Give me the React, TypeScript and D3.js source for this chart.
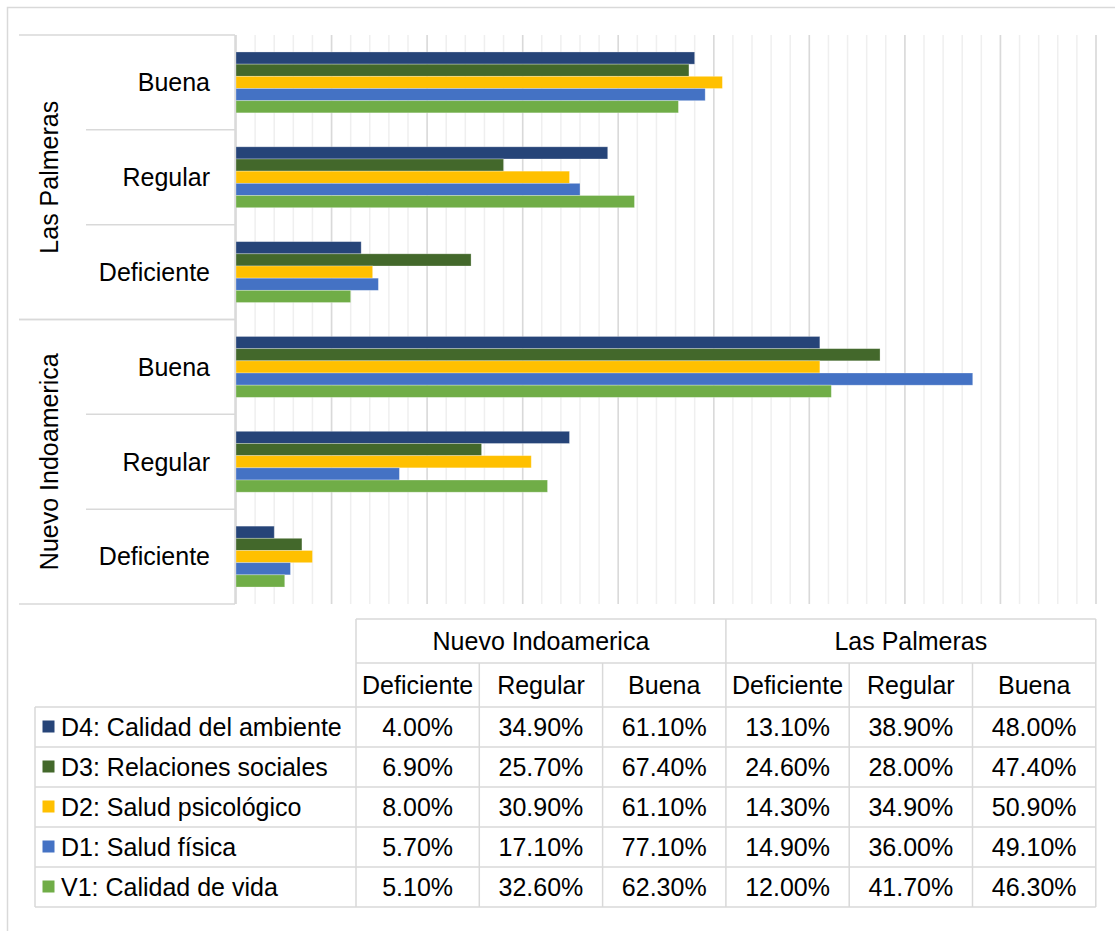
import * as d3 from 'd3'

// table column order: Nuevo Indoamerica (Def, Reg, Buena), Las Palmeras (Def, Reg, Buena)
const groups = ['Nuevo Indoamerica', 'Las Palmeras']
const levels = ['Deficiente', 'Regular', 'Buena']

const seriesNames = [
  'D4: Calidad del ambiente',
  'D3: Relaciones sociales',
  'D2: Salud psicológico',
  'D1: Salud física',
  'V1: Calidad de vida',
]
const seriesColors = ['#264478', '#43682B', '#FFC000', '#4472C4', '#70AD47']

const d4 = [4.0, 34.9, 61.1, 13.1, 38.9, 48.0]
const d3v = [6.9, 25.7, 67.4, 24.6, 28.0, 47.4]
const d2 = [8.0, 30.9, 61.1, 14.3, 34.9, 50.9]
const d1 = [5.7, 17.1, 77.1, 14.9, 36.0, 49.1]
const v1 = [5.1, 32.6, 62.3, 12.0, 41.7, 46.3]
const seriesValues = [d4, d3v, d2, d1, v1]

const W = 1115
const H = 931
const FONT = "'Liberation Sans', Arial, sans-serif"
const LINE = '#d9d9d9'
const FS = 25

const cols = groups.flatMap(g => levels.map(l => ({ group: g, level: l, key: `${g}|${l}` })))

export default function App() {
  const plot = { l: 236, r: 1096, t: 35, b: 604 }

  const x = d3.scaleLinear().domain([0, 90]).range([plot.l, plot.r])
  // bars: first category at bottom, like the original
  const yKeys = [...cols].reverse().map(c => c.key)
  const y = d3
    .scaleBand<string>()
    .domain(yKeys)
    .range([plot.t, plot.b])
    .paddingInner(0.358)
    .paddingOuter(0.179)
  const ys = d3
    .scaleBand<number>()
    .domain(d3.range(seriesNames.length))
    .range([0, y.bandwidth()])

  const step = y.step()
  const bandTop = (k: string) => y(k)! - y.paddingOuter() * step
  const minor = d3.range(0, 90.001, 2)
  const major = d3.range(0, 90.001, 10)

  // table geometry
  const tab = { l: 35, c0: 356, colW: 123.3, top: 619, h1: 44, h2: 44, rowH: 40 }
  const colX = (i: number) => tab.c0 + i * tab.colW
  const row2Top = tab.top + tab.h1
  const dataTop = row2Top + tab.h2
  const tabR = colX(6)
  const fmt = d3.format('.2f')

  return (
    <svg
      width={W}
      height={H}
      style={{ position: 'absolute', left: 0, top: 0, background: '#fff' }}
      fontFamily={FONT}
    >
      <rect x={7.5} y={7.5} width={W + 10} height={H + 10} fill="#fff" stroke={LINE} strokeWidth={1.5} />

      {/* gridlines */}
      {minor.map(v => (
        <line key={'m' + v} x1={x(v)} x2={x(v)} y1={plot.t} y2={plot.b} stroke="#efefef" strokeWidth={1.5} />
      ))}
      {major.map(v => (
        <line key={'M' + v} x1={x(v)} x2={x(v)} y1={plot.t} y2={plot.b} stroke={LINE} strokeWidth={1.5} />
      ))}

      {/* bars */}
      {seriesValues.map((vals, si) =>
        cols.map((c, ci) => (
          <rect
            key={`${si}-${ci}`}
            x={x(0)}
            y={y(c.key)! + ys(si)!}
            width={x(vals[ci]) - x(0)}
            height={ys.bandwidth()}
            fill={seriesColors[si]}
            stroke="#ffffff"
            strokeOpacity={0.35}
            strokeWidth={0.8}
          />
        ))
      )}

      {/* category axis */}
      <line x1={235} x2={235} y1={plot.t} y2={plot.b} stroke={LINE} strokeWidth={1.5} />
      {groups.map(g => {
        const keys = yKeys.filter(k => k.startsWith(g + '|'))
        const top = d3.min(keys, bandTop)!
        const bottom = top + keys.length * step
        return (
          <g key={g}>
            <line x1={19} x2={235} y1={top} y2={top} stroke={LINE} strokeWidth={1.5} />
            <line x1={19} x2={235} y1={bottom} y2={bottom} stroke={LINE} strokeWidth={1.5} />
            <text
              transform={`translate(58,${(top + bottom) / 2}) rotate(-90)`}
              textAnchor="middle"
              fontSize={FS}
              fill="#000"
            >
              {g}
            </text>
          </g>
        )
      })}
      {yKeys.map((k, i) => {
        const lvl = k.split('|')[1]
        const top = bandTop(k)
        const isGroupStart = i % levels.length === 0
        return (
          <g key={k}>
            {!isGroupStart && (
              <line x1={86} x2={235} y1={top} y2={top} stroke={LINE} strokeWidth={1.5} />
            )}
            <text x={210} y={top + step / 2} dy="0.35em" textAnchor="end" fontSize={FS} fill="#000">
              {lvl}
            </text>
          </g>
        )
      })}

      {/* data table */}
      <g stroke={LINE} strokeWidth={1.5} fill="none">
        <line x1={tab.c0} x2={tabR} y1={tab.top} y2={tab.top} />
        <line x1={tab.c0} x2={tabR} y1={row2Top} y2={row2Top} />
        <line x1={tab.l} x2={tabR} y1={dataTop} y2={dataTop} />
        {seriesNames.map((_, i) => (
          <line key={i} x1={tab.l} x2={tabR} y1={dataTop + (i + 1) * tab.rowH} y2={dataTop + (i + 1) * tab.rowH} />
        ))}
        <line x1={tab.l} x2={tab.l} y1={dataTop} y2={dataTop + seriesNames.length * tab.rowH} />
        {d3.range(7).map(i => (
          <line
            key={i}
            x1={colX(i)}
            x2={colX(i)}
            y1={i % 3 === 0 ? tab.top : row2Top}
            y2={dataTop + seriesNames.length * tab.rowH}
          />
        ))}
      </g>
      {groups.map((g, gi) => (
        <text
          key={g}
          x={(colX(gi * 3) + colX(gi * 3 + 3)) / 2}
          y={tab.top + tab.h1 / 2}
          dy="0.35em"
          textAnchor="middle"
          fontSize={FS}
        >
          {g}
        </text>
      ))}
      {cols.map((c, i) => (
        <text
          key={c.key}
          x={colX(i) + tab.colW / 2}
          y={row2Top + tab.h2 / 2}
          dy="0.35em"
          textAnchor="middle"
          fontSize={FS}
        >
          {c.level}
        </text>
      ))}
      {seriesNames.map((name, si) => {
        const cy = dataTop + si * tab.rowH + tab.rowH / 2
        return (
          <g key={name}>
            <rect x={42.5} y={cy - 6.5} width={12} height={12} fill={seriesColors[si]} />
            <text x={61} y={cy} dy="0.35em" fontSize={FS}>
              {name}
            </text>
            {seriesValues[si].map((v, ci) => (
              <text key={ci} x={colX(ci) + tab.colW / 2} y={cy} dy="0.35em" textAnchor="middle" fontSize={FS}>
                {fmt(v)}%
              </text>
            ))}
          </g>
        )
      })}
    </svg>
  )
}
